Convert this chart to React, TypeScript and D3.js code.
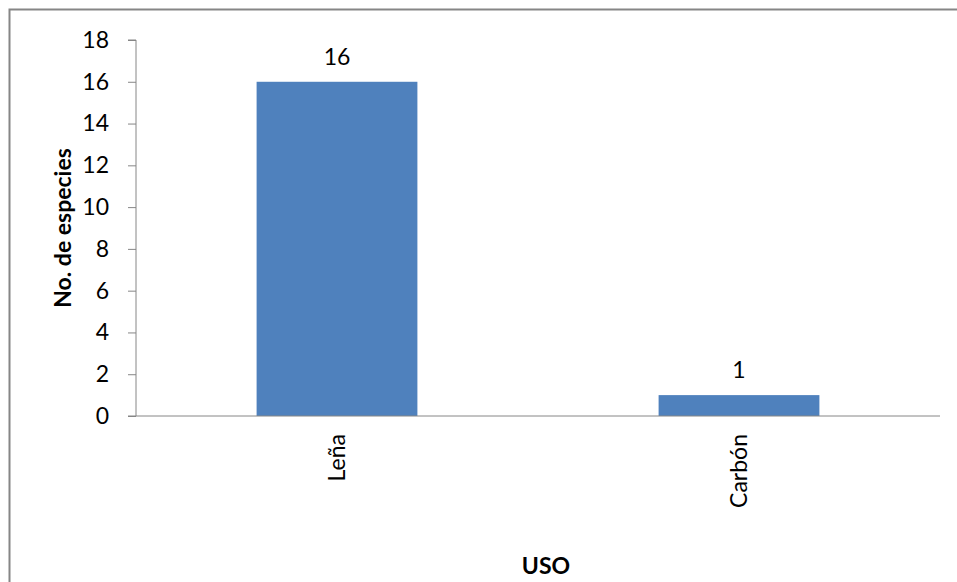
import * as d3 from "d3";
import { useEffect, useRef } from "react";

const categories = ["Leña", "Carbón"];
const values = [16, 1];
const yTicks = [0, 2, 4, 6, 8, 10, 12, 14, 16, 18];

const App = () => {
  const svgRef = useRef<SVGSVGElement | null>(null);

  useEffect(() => {
    if (!svgRef.current) return;
    const width = 957;
    const height = 582;
    const margin = { top: 40, right: 17, bottom: 166, left: 136 };
    const font = "Lato, 'Open Sans', sans-serif";
    const fs = 23;

    const svg = d3.select(svgRef.current);
    svg.selectAll("*").remove();

    // outer frame (runs off the bottom/right of the picture)
    svg.append("rect")
      .attr("x", 9.5)
      .attr("y", 9.5)
      .attr("width", 960)
      .attr("height", 600)
      .attr("fill", "white")
      .attr("stroke", "#868686")
      .attr("stroke-width", 2);

    const x = d3.scaleBand<string>()
      .domain(categories)
      .range([margin.left, width - margin.right])
      .padding(0);

    const y = d3.scaleLinear()
      .domain([0, 18])
      .range([height - margin.bottom, margin.top]);

    const barW = x.bandwidth() * 0.4;

    // bars
    svg.append("g")
      .selectAll("rect")
      .data(values)
      .join("rect")
      .attr("x", (_, i) => x(categories[i])! + (x.bandwidth() - barW) / 2)
      .attr("y", (d) => y(d))
      .attr("width", barW)
      .attr("height", (d) => y(0) - y(d))
      .attr("fill", "#4F81BD");

    // value labels
    svg.append("g")
      .selectAll("text")
      .data(values)
      .join("text")
      .attr("x", (_, i) => x(categories[i])! + x.bandwidth() / 2)
      .attr("y", (d) => y(d) - 17)
      .attr("text-anchor", "middle")
      .attr("font-family", font)
      .attr("font-size", fs)
      .text((d) => d);

    // y axis
    const yAxis = svg.append("g")
      .attr("transform", `translate(${margin.left},0)`)
      .call(d3.axisLeft(y).tickValues(yTicks).tickSize(8).tickPadding(19));
    yAxis.selectAll("line, path").attr("stroke", "#868686");
    yAxis.select(".domain").attr("d", `M-8,${y(18)}H0V${y(0)}`);
    yAxis.selectAll("text")
      .attr("font-family", font)
      .attr("font-size", fs)
      .attr("fill", "black");

    // x axis line
    svg.append("line")
      .attr("x1", margin.left - 8)
      .attr("x2", width - margin.right)
      .attr("y1", y(0))
      .attr("y2", y(0))
      .attr("stroke", "#868686");

    // category labels (rotated)
    svg.append("g")
      .selectAll("text")
      .data(categories)
      .join("text")
      .attr("transform", (d) => `translate(${x(d)! + x.bandwidth() / 2 + 8},${y(0) + 18}) rotate(-90)`)
      .attr("text-anchor", "end")
      .attr("font-family", font)
      .attr("font-size", fs)
      .text((d) => d);

    // axis titles
    svg.append("text")
      .attr("transform", `translate(71,${(y(0) + y(18)) / 2}) rotate(-90)`)
      .attr("text-anchor", "middle")
      .attr("font-family", font)
      .attr("font-size", fs)
      .attr("font-weight", "bold")
      .text("No. de especies");

    svg.append("text")
      .attr("x", 546)
      .attr("y", 574)
      .attr("text-anchor", "middle")
      .attr("font-family", font)
      .attr("font-size", fs)
      .attr("font-weight", "bold")
      .text("USO");
  }, []);

  return (
    <svg
      ref={svgRef}
      width={957}
      height={582}
      style={{ position: "absolute", left: 0, top: 0, display: "block" }}
    />
  );
};

export default App;
